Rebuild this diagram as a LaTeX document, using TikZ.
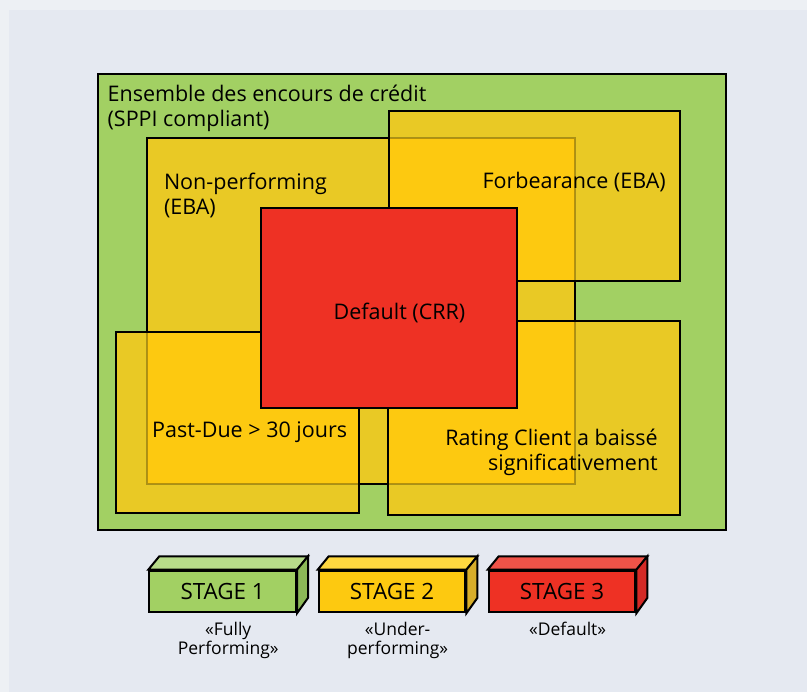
\documentclass[tikz,border=0pt]{standalone}
\usepackage{fontspec}
\setmainfont{Open Sans}
\definecolor{bgmargin}{HTML}{EDF0F4}
\definecolor{bgpanel}{HTML}{E5E9F1}
\definecolor{stagegreen}{HTML}{A2D063}
\definecolor{topgreen}{HTML}{B8DC8A}
\definecolor{sidegreen}{HTML}{8CB857}
\definecolor{stageyellow}{HTML}{FDC910}
\definecolor{topyellow}{HTML}{FFD840}
\definecolor{sideyellow}{HTML}{D8AE2A}
\definecolor{darkyellow}{HTML}{E9C925}
\definecolor{stagered}{HTML}{EE3124}
\definecolor{topred}{HTML}{F05348}
\definecolor{sidered}{HTML}{D42A26}
\tikzset{
	zone/.style = {draw=black, line width=2pt, fill=darkyellow},
	edge/.style = {draw=black, line width=2pt},
	txt/.style = {inner sep=0pt, font=\fontsize{21.5}{25}\selectfont},
	stagebox/.style = {draw=black, line width=2pt, minimum width=146.7pt,
		minimum height=41.6pt, inner sep=0pt, font=\fontsize{22.4}{25}\selectfont},
	caption/.style = {inner sep=0pt, align=center, font=\fontsize{17.5}{18.7}\selectfont}
}

\begin{document}
\begin{tikzpicture}[x=1pt, y=-1pt, line join=miter]
	\useasboundingbox (0,0) rectangle (807,692);
	\fill[bgmargin] (0,0) rectangle (807,692);
	\fill[bgpanel] (9,10) rectangle (807,692);
	% credit portfolio
	\draw[edge, fill=stagegreen] (97.5,74) rectangle (726.4,530);
	\draw[zone] (147,138) rectangle (575,484);
	\draw[zone] (388.5,111) rectangle (679.5,281);
	\draw[zone] (388,321) rectangle (679.5,515);
	\draw[zone] (115.7,331.7) rectangle (358.7,513.3);
	% overlaps with non-performing
	\foreach \ax/\ay/\bx/\by in {388.5/111/679.5/281, 388/321/679.5/515, 115.7/331.7/358.7/513.3}{
		\begin{scope}
			\clip (\ax,\ay) rectangle (\bx,\by);
			\fill[stageyellow] (147,138) rectangle (575,484);
		\end{scope}
	}
	\draw[line width=2pt, black, draw opacity=0.28] (147,138) rectangle (575,484);
	\draw[edge] (388.5,111) rectangle (679.5,281);
	\draw[edge] (388,321) rectangle (679.5,515);
	\draw[edge] (115.7,331.7) rectangle (358.7,513.3);
	\draw[edge, fill=stagered] (261,207.7) rectangle (517,407.7);

	\node[txt, anchor=base west, align=left] (ensemble) at (107.4,126.5) {Ensemble des encours de crédit\\(SPPI compliant)};
	\node[txt, anchor=base west, align=left] (np) at (163.8,214.5) {Non-performing\\(EBA)};
	\node[txt, anchor=base east] (forb) at (666,189) {Forbearance (EBA)};
	\node[txt, anchor=base] (default) at (399.5,320) {Default (CRR)};
	\node[txt, anchor=base west] (pastdue) at (152,438) {Past-Due > 30 jours};
	\node[txt, anchor=base east, align=right] (rating) at (658,470.5) {Rating Client a baissé\\significativement};

	% stages
	\foreach \n/\xa/\fc/\tc/\sc/\yc/\cap in {1/149.3/stagegreen/topgreen/sidegreen/654.3/{«Fully\\Performing»},
		2/318.7/stageyellow/topyellow/sideyellow/654.3/{«Under-\\performing»},
		3/488.7/stagered/topred/sidered/636/{«Default»}}{
		\node[stagebox, fill=\fc] (stage\n) at (\xa+73.35,591.5) {STAGE \n};
		\path (stage\n.north east) ++(11,-13.4) coordinate (back\n);
		\draw[edge, fill=\tc] (stage\n.north west) -- ++(11,-13.4) -- (back\n) -- (stage\n.north east) -- cycle;
		\draw[edge, fill=\sc] (stage\n.north east) -- (back\n) -- ++(0,41.6) -- (stage\n.south east) -- cycle;
		\node[caption, anchor=base] (caption\n) at (\xa+78.9,\yc) {\cap};
	}
\end{tikzpicture}
\end{document}
